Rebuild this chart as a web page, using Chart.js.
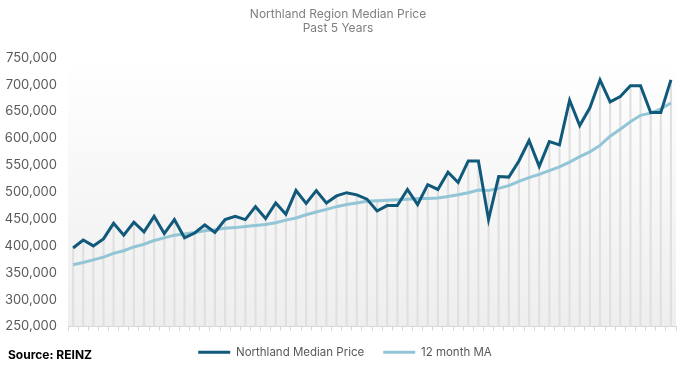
<!DOCTYPE html>
<html>
<head>
<meta charset="utf-8">
<script src="https://cdn.jsdelivr.net/npm/chart.js@4"></script>
<style>
  html, body { margin: 0; padding: 0; background: #fff; }
  #wrap { position: relative; width: 689px; height: 369px; }
  #source {
    position: absolute; left: 8px; top: 347px;
    font: bold 12px Inter, sans-serif; color: #000;
  }
</style>
</head>
<body>
<div id="wrap">
  <canvas id="priceChart" width="689" height="369"></canvas>
  <div id="source">Source: REINZ</div>
</div>
<script>
// months (not shown on the axis)
const months = [
  "Apr-16","May-16","Jun-16","Jul-16","Aug-16","Sep-16","Oct-16","Nov-16","Dec-16","Jan-17","Feb-17","Mar-17",
  "Apr-17","May-17","Jun-17","Jul-17","Aug-17","Sep-17","Oct-17","Nov-17","Dec-17","Jan-18","Feb-18","Mar-18",
  "Apr-18","May-18","Jun-18","Jul-18","Aug-18","Sep-18","Oct-18","Nov-18","Dec-18","Jan-19","Feb-19","Mar-19",
  "Apr-19","May-19","Jun-19","Jul-19","Aug-19","Sep-19","Oct-19","Nov-19","Dec-19","Jan-20","Feb-20","Mar-20",
  "Apr-20","May-20","Jun-20","Jul-20","Aug-20","Sep-20","Oct-20","Nov-20","Dec-20","Jan-21","Feb-21","Mar-21"
];

const medianPrice = [
  396000, 411000, 400000, 413000, 442000, 420000, 444000, 426000, 455000, 423000, 449000, 415000,
  424000, 439000, 425000, 449000, 455000, 449000, 473000, 451000, 480000, 459000, 503000, 479000,
  503000, 480000, 493000, 499000, 495000, 487000, 465000, 475000, 475000, 505000, 477000, 514000,
  505000, 537000, 518000, 558000, 558000, 449000, 529000, 528000, 558000, 596000, 548000, 594000,
  588000, 671000, 624000, 657000, 709000, 668000, 678000, 698000, 698000, 648000, 648000, 709000
];

const movingAvg = [
  365000, 369000, 374000, 379000, 386000, 391000, 398000, 403000, 410000, 415000, 420000, 422000,
  425000, 428000, 430000, 433000, 434000, 436000, 438000, 440000, 443000, 448000, 452000, 458000,
  463000, 468000, 473000, 477000, 480000, 483000, 484000, 485000, 486000, 487000, 488000, 488000,
  489000, 492000, 495000, 499000, 504000, 503000, 507000, 512000, 520000, 527000, 533000, 540000,
  547000, 556000, 566000, 575000, 587000, 604000, 617000, 631000, 643000, 647000, 655000, 666000
];

const yTicks = { min: 250000, max: 750000, step: 50000 };

// drop lines go up to the higher of the two series
const dropLines = medianPrice.map((v, i) => Math.max(v, movingAvg[i]));

// soft grey gradient behind the plot
const plotBackground = {
  id: "plotBackground",
  beforeDraw(chart) {
    const { ctx, chartArea } = chart;
    const g = ctx.createLinearGradient(0, chartArea.top, 0, chartArea.bottom);
    g.addColorStop(0, "#ffffff");
    g.addColorStop(1, "#eeeeee");
    ctx.save();
    ctx.fillStyle = g;
    ctx.fillRect(chartArea.left, chartArea.top, chartArea.right - chartArea.left, chartArea.bottom - chartArea.top);
    ctx.restore();
  }
};

// legend sits centred on the page, not on the padded box
const legendShift = {
  id: "legendShift",
  afterLayout(chart) {
    if (chart.legend) {
      chart.legend.left += 7;
      chart.legend.right += 7;
    }
  }
};

const ctx = document.getElementById("priceChart");

new Chart(ctx, {
  data: {
    labels: months,
    datasets: [
      {
        type: "bar",
        label: "drop",
        data: dropLines,
        backgroundColor: "#e0e0e0",
        barThickness: 1.5,
        order: 3
      },
      {
        type: "line",
        label: "Northland Median Price",
        data: medianPrice,
        borderColor: "#10597a",
        backgroundColor: "#10597a",
        borderWidth: 3,
        pointRadius: 0,
        tension: 0,
        order: 1
      },
      {
        type: "line",
        label: "12 month MA",
        data: movingAvg,
        borderColor: "#92c6d6",
        backgroundColor: "#92c6d6",
        borderWidth: 3,
        pointRadius: 0,
        tension: 0,
        order: 2
      }
    ]
  },
  options: {
    responsive: false,
    animation: false,
    layout: { padding: { left: 0, right: 13, top: 0, bottom: 1 } },
    plugins: {
      title: {
        display: true,
        text: ["Northland Region Median Price", "Past 5 Years"],
        color: "#7f7f7f",
        font: { family: "Inter", size: 12, weight: "normal", lineHeight: 1.2 },
        padding: { top: 7, bottom: 22 }
      },
      legend: {
        position: "bottom",
        labels: {
          color: "#595959",
          font: { family: "Inter", size: 11.5 },
          boxWidth: 32,
          boxHeight: 3,
          padding: 19,
          filter: item => item.text !== "drop",
          generateLabels(chart) {
            const items = Chart.defaults.plugins.legend.labels.generateLabels(chart);
            items.forEach(it => { it.lineWidth = 0; it.fillStyle = it.strokeStyle; });
            return items;
          }
        }
      },
      tooltip: { enabled: false }
    },
    scales: {
      x: {
        type: "category",
        offset: true,
        grid: {
          display: true,
          drawOnChartArea: false,
          drawTicks: true,
          tickLength: 4,
          offset: true,
          color: "#d6d6d6"
        },
        border: { display: true, color: "#d6d6d6" },
        ticks: { display: false },
        afterFit(scale) { scale.height = 1; }
      },
      y: {
        min: yTicks.min,
        max: yTicks.max,
        grid: { display: false, drawTicks: false },
        border: { display: false },
        ticks: {
          stepSize: yTicks.step,
          padding: 11,
          color: "#595959",
          font: { family: "Inter", size: 13 },
          callback: v => v.toLocaleString("en-US")
        },
        afterFit(scale) { scale.width = 68; }
      }
    }
  },
  plugins: [plotBackground, legendShift]
});
</script>
</body>
</html>
